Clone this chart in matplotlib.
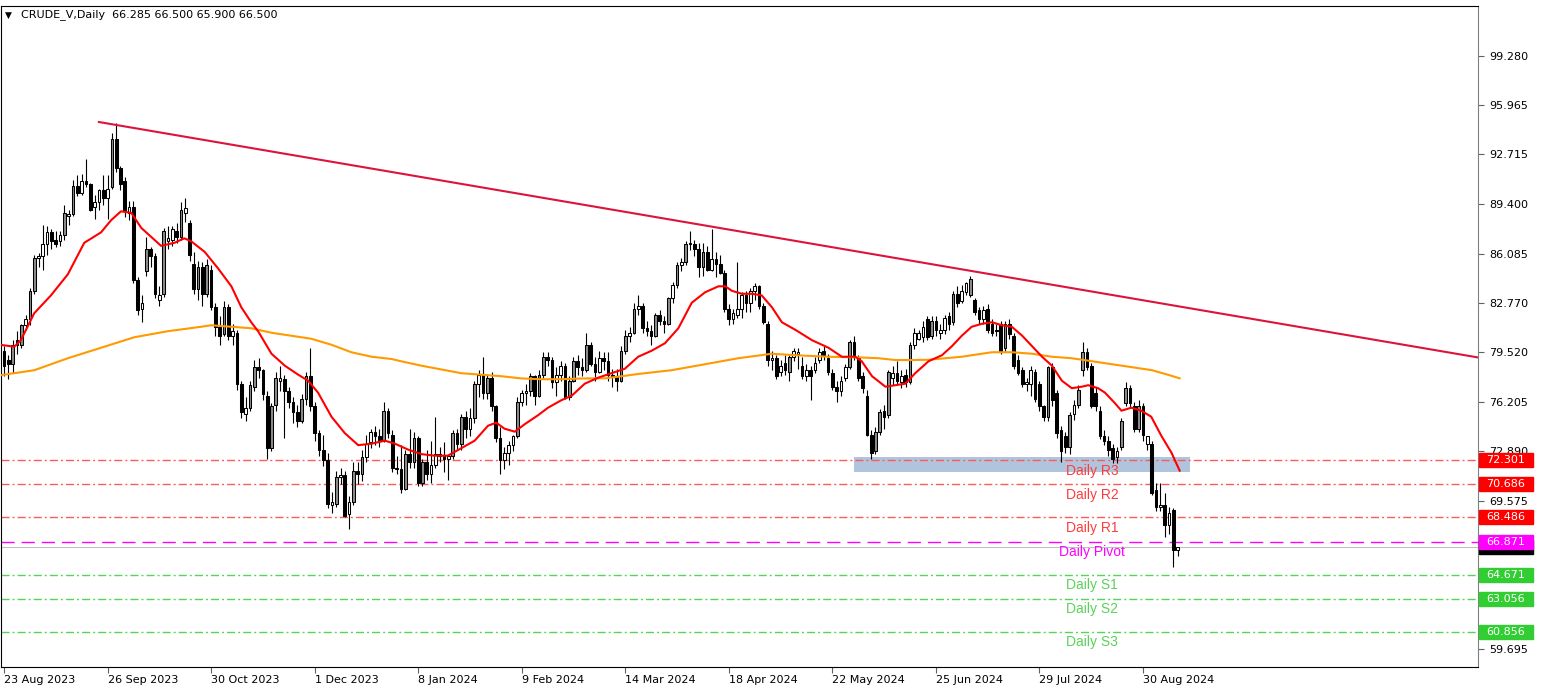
import numpy as np
import matplotlib.pyplot as plt
from matplotlib.patches import Rectangle
from matplotlib.transforms import blended_transform_factory

# Daily bars of CRUDE_V, 23 Aug 2023 .. 11 Sep 2024 (one value per bar)
opens = [
    79.6, 79.0, 78.7, 80.3, 80.0, 81.3, 81.7, 83.6, 85.8, 85.9,
    86.7, 87.5, 87.0, 86.9, 87.3, 88.6, 88.7, 90.6, 90.1, 90.9,
    90.7, 89.2, 89.5, 90.3, 89.8, 90.5, 93.7, 91.8, 90.9, 88.8,
    89.2, 84.3, 82.4, 84.9, 86.4, 85.9, 83.0, 83.4, 86.9, 87.0,
    87.6, 87.2, 88.8, 88.1, 85.4, 83.7, 85.2, 83.4, 85.0, 82.5,
    81.2, 80.7, 82.5, 80.6, 80.8, 77.4, 75.4, 75.8, 77.2, 78.5,
    78.3, 76.6, 73.1, 76.0, 77.6, 77.7, 76.9, 76.2, 75.5, 74.9,
    76.4, 77.9, 75.9, 74.1, 73.0, 72.3, 69.3, 69.4, 71.2, 71.3,
    68.7, 69.5, 71.6, 71.4, 72.5, 73.5, 74.2, 73.9, 73.6, 75.6,
    74.0, 71.8, 71.7, 70.4, 72.7, 72.2, 73.8, 70.8, 72.2, 71.4,
    72.0, 72.7, 72.6, 72.4, 72.6, 74.1, 73.4, 75.2, 74.4, 75.1,
    77.4, 78.0, 76.8, 77.8, 75.9, 73.8, 72.3, 72.8, 73.3, 73.9,
    76.2, 76.8, 76.9, 77.9, 76.6, 78.0, 79.2, 79.0, 77.5, 78.0,
    78.6, 76.5, 77.6, 78.9, 78.5, 78.3, 80.0, 78.7, 78.2, 79.1,
    78.9, 78.0, 77.9, 77.6, 79.6, 80.6, 80.8, 82.4, 82.6, 81.1,
    80.9, 80.6, 82.0, 81.6, 81.4, 83.1, 84.0, 85.3, 85.5, 86.8,
    86.7, 86.4, 85.2, 86.2, 85.0, 85.7, 85.4, 84.8, 82.4, 81.7,
    82.0, 82.4, 83.3, 82.8, 83.6, 83.9, 82.6, 81.4, 79.0, 79.1,
    78.2, 78.8, 78.2, 79.2, 79.4, 78.6, 77.9, 78.3, 78.3, 79.0,
    79.6, 79.1, 78.1, 77.2, 76.9, 77.8, 78.5, 80.2, 79.1, 77.9,
    76.6, 74.0, 72.9, 74.2, 75.6, 75.3, 77.8, 78.1, 77.5, 78.0,
    77.5, 80.0, 80.4, 80.5, 81.7, 80.6, 81.6, 80.8, 81.0, 81.9,
    81.5, 83.4, 82.9, 83.5, 83.3, 83.0, 82.3, 81.7, 82.4, 81.4,
    81.0, 81.4, 79.8, 81.4, 80.6, 79.0, 78.3, 77.4, 77.4, 78.2,
    77.4, 75.9, 75.2, 78.5, 76.8, 74.3, 73.9, 73.2, 75.4, 76.0,
    78.3, 79.5, 78.6, 76.8, 75.6, 73.9, 73.6, 73.1, 72.5, 73.2,
    76.1, 77.1, 75.9, 74.4, 75.9, 73.4, 73.4, 70.3, 69.2, 69.3,
    68.0, 69.0, 66.285,
]
highs = [
    79.9, 79.3, 80.3, 80.9, 81.4, 82.0, 83.8, 86.0, 86.1, 88.0,
    87.9, 87.7, 87.6, 87.6, 89.3, 89.0, 91.0, 91.3, 91.4, 92.4,
    90.8, 90.0, 90.4, 91.3, 91.3, 94.1, 94.8, 91.9, 91.2, 89.6,
    89.6, 84.5, 83.3, 87.2, 86.5, 86.1, 83.9, 87.8, 87.9, 87.9,
    88.1, 89.5, 89.8, 88.3, 86.2, 85.6, 85.5, 85.7, 85.3, 82.8,
    81.9, 82.9, 82.7, 81.4, 81.0, 77.6, 76.5, 77.6, 79.0, 79.1,
    78.4, 76.9, 76.1, 78.2, 78.6, 78.0, 77.2, 76.5, 76.0, 76.7,
    78.2, 79.8, 76.2, 74.3, 74.0, 72.8, 70.2, 71.6, 71.8, 71.6,
    69.9, 72.2, 72.2, 73.0, 74.0, 74.4, 74.6, 74.4, 76.2, 75.8,
    74.3, 72.6, 73.3, 73.0, 74.4, 74.2, 73.9, 72.4, 73.0, 73.6,
    75.2, 73.2, 73.5, 72.6, 74.3, 74.4, 75.4, 75.6, 75.8, 77.6,
    78.3, 79.2, 78.0, 78.2, 76.0, 74.5, 73.2, 73.6, 74.0, 76.5,
    77.0, 77.4, 78.1, 78.0, 78.3, 79.5, 79.5, 79.2, 78.5, 78.9,
    78.8, 77.9, 79.2, 79.3, 79.1, 80.8, 80.2, 79.2, 79.6, 79.5,
    79.5, 78.4, 78.4, 79.9, 81.0, 81.2, 82.8, 83.3, 82.8, 81.6,
    81.3, 82.1, 82.3, 81.9, 83.2, 84.2, 85.5, 85.8, 86.9, 87.6,
    87.0, 86.8, 86.8, 86.6, 87.7, 86.2, 86.0, 85.0, 82.7, 82.4,
    85.5, 83.5, 83.6, 83.8, 84.1, 84.0, 82.8, 81.6, 79.6, 79.3,
    79.0, 79.3, 79.3, 79.8, 79.8, 79.2, 78.7, 78.6, 79.2, 79.8,
    80.0, 79.4, 78.4, 77.6, 77.9, 78.7, 80.3, 80.6, 79.3, 78.2,
    77.0, 74.3, 74.5, 75.7, 76.0, 78.3, 78.6, 78.9, 78.3, 78.4,
    80.2, 81.1, 81.0, 81.6, 81.9, 81.9, 81.9, 81.4, 82.0, 82.2,
    83.6, 83.9, 84.0, 84.2, 84.6, 83.1, 82.5, 82.6, 82.7, 81.7,
    81.4, 81.6, 81.6, 81.7, 80.8, 79.3, 78.5, 77.8, 78.6, 78.4,
    77.6, 76.0, 78.6, 78.8, 77.0, 74.6, 74.2, 75.5, 76.3, 77.3,
    80.2, 79.8, 78.8, 77.2, 75.9, 74.3, 73.9, 73.4, 73.2, 75.1,
    77.5, 77.3, 76.2, 76.3, 76.1, 73.9, 73.6, 70.8, 70.8, 70.1,
    69.2, 69.1, 66.5,
]
lows = [
    77.9, 77.7, 78.1, 79.4, 79.8, 81.0, 81.3, 83.4, 85.2, 85.0,
    86.0, 86.4, 86.5, 86.6, 87.0, 88.0, 88.6, 89.9, 90.0, 90.5,
    88.9, 88.4, 89.0, 89.3, 88.4, 90.4, 91.5, 90.3, 88.5, 88.3,
    84.1, 82.0, 81.5, 84.6, 85.2, 83.1, 82.6, 83.2, 86.4, 86.6,
    86.8, 87.0, 88.2, 85.6, 83.4, 83.0, 82.6, 83.2, 82.3, 80.6,
    80.0, 80.6, 80.3, 80.0, 77.0, 75.1, 74.9, 75.6, 76.9, 77.8,
    76.3, 72.4, 72.9, 75.6, 76.9, 73.8, 75.8, 74.8, 74.5, 74.8,
    76.0, 75.6, 73.6, 72.6, 71.9, 69.1, 68.8, 69.2, 70.7, 68.5,
    67.7, 69.3, 70.7, 70.9, 72.2, 73.1, 73.3, 73.2, 73.5, 73.8,
    71.5, 71.4, 70.1, 70.3, 71.8, 71.8, 70.6, 70.6, 71.0, 70.8,
    71.8, 72.2, 71.5, 71.0, 72.4, 73.0, 73.0, 73.8, 73.9, 74.8,
    76.5, 76.4, 76.4, 75.6, 73.5, 71.4, 71.7, 72.0, 72.9, 73.8,
    75.9, 76.0, 76.6, 76.0, 76.5, 77.8, 78.6, 77.1, 76.6, 77.6,
    76.4, 76.3, 77.5, 78.0, 77.9, 78.2, 78.6, 77.6, 78.1, 78.3,
    77.6, 77.2, 76.9, 77.5, 79.4, 80.2, 80.7, 82.0, 80.8, 80.6,
    80.0, 80.5, 81.3, 80.8, 81.3, 82.8, 83.8, 84.9, 85.3, 86.3,
    85.9, 84.5, 84.6, 84.9, 84.9, 84.5, 84.7, 82.2, 81.3, 81.4,
    81.8, 81.8, 82.2, 82.2, 83.0, 82.4, 81.4, 78.6, 78.3, 77.7,
    77.9, 78.0, 77.6, 78.9, 78.4, 77.7, 77.6, 76.3, 78.1, 78.8,
    79.0, 78.0, 77.0, 76.2, 76.6, 77.6, 78.4, 79.0, 77.6, 76.8,
    73.9, 72.4, 72.7, 74.0, 74.4, 75.1, 77.3, 77.4, 77.1, 77.2,
    77.4, 79.7, 80.3, 80.2, 80.3, 80.4, 80.6, 80.4, 80.7, 81.0,
    81.3, 82.5, 82.8, 83.3, 83.2, 82.0, 81.4, 81.4, 80.8, 80.6,
    80.6, 79.4, 79.6, 80.4, 78.4, 78.0, 77.2, 76.9, 76.6, 76.2,
    75.6, 74.9, 74.9, 75.9, 73.8, 72.2, 72.8, 72.7, 75.0, 75.8,
    77.9, 78.3, 75.8, 75.6, 73.7, 73.3, 72.6, 72.1, 72.1, 73.0,
    75.9, 75.8, 74.2, 74.2, 73.6, 73.0, 70.0, 68.9, 68.9, 67.2,
    67.4, 65.2, 65.9,
]
closes = [
    78.6, 78.7, 80.0, 80.0, 81.3, 81.7, 83.6, 85.8, 85.9, 86.7,
    87.5, 86.9, 86.7, 87.3, 88.8, 88.7, 90.6, 90.1, 90.9, 90.7,
    89.0, 89.5, 90.3, 89.8, 90.4, 93.7, 91.8, 90.7, 88.9, 89.2,
    84.3, 82.3, 82.8, 86.4, 85.9, 83.4, 83.3, 87.6, 87.1, 87.7,
    87.2, 89.0, 89.1, 86.0, 83.7, 85.2, 83.4, 85.3, 82.5, 81.2,
    80.6, 82.5, 80.6, 80.9, 77.4, 75.5, 75.8, 77.3, 78.5, 78.3,
    76.7, 73.1, 75.9, 77.8, 77.8, 76.9, 76.2, 75.5, 74.9, 76.4,
    77.9, 75.9, 74.1, 73.0, 72.3, 69.4, 69.5, 71.2, 71.3, 68.6,
    69.5, 71.6, 71.4, 72.5, 73.4, 74.2, 73.9, 73.6, 75.6, 74.1,
    71.8, 71.7, 70.4, 72.7, 72.2, 73.8, 70.8, 72.2, 71.4, 72.0,
    72.7, 72.6, 72.4, 72.6, 74.1, 73.4, 75.2, 74.4, 75.1, 77.4,
    78.0, 76.8, 77.8, 75.9, 73.8, 72.3, 72.8, 73.3, 73.9, 76.2,
    76.8, 76.9, 77.9, 76.6, 78.0, 79.2, 79.0, 77.5, 78.0, 78.6,
    76.5, 77.6, 78.9, 78.5, 78.3, 80.0, 78.7, 78.2, 79.1, 78.9,
    78.0, 77.9, 77.6, 79.6, 80.6, 80.8, 82.4, 82.6, 81.1, 80.9,
    80.6, 82.0, 81.6, 81.4, 83.1, 84.0, 85.3, 85.5, 86.7, 86.7,
    86.4, 85.2, 86.2, 85.0, 85.7, 85.4, 84.8, 82.4, 81.7, 82.1,
    82.4, 83.3, 82.8, 83.6, 83.9, 82.6, 81.5, 79.0, 79.1, 77.9,
    78.6, 78.3, 79.2, 79.6, 79.5, 77.9, 78.3, 77.9, 78.8, 79.5,
    79.3, 78.2, 77.2, 76.9, 77.6, 78.5, 80.2, 79.3, 77.8, 77.1,
    74.0, 72.8, 74.2, 75.5, 75.2, 78.2, 78.1, 77.6, 77.9, 77.5,
    80.0, 80.8, 80.8, 81.2, 80.5, 81.6, 81.0, 81.0, 81.8, 81.4,
    83.4, 82.8, 83.6, 84.1, 84.4, 82.2, 81.7, 82.3, 81.0, 80.8,
    80.9, 79.6, 81.4, 80.7, 78.6, 78.1, 77.4, 77.5, 78.3, 76.4,
    75.9, 75.2, 78.5, 76.3, 74.1, 72.9, 73.2, 75.3, 76.0, 77.0,
    79.5, 78.5, 75.9, 75.9, 73.9, 73.6, 73.0, 72.4, 72.9, 74.9,
    77.1, 76.1, 74.4, 75.9, 74.0, 73.9, 70.1, 69.2, 69.3, 68.0,
    68.8, 66.3, 66.5,
]

# moving averages: (bar, price)
fast_ma_bar = [-0.5, 2.4, 3.9, 7, 10.9, 14.8, 18.6, 22.5, 24.8, 27.1, 29.5,
               31.8, 34.1, 36.4, 39.5, 41.8, 43.4, 46.5, 49.6, 52.7, 55, 57.3,
               58.9, 62, 65.1, 68.2, 70.5, 72.8, 75.9, 79, 82.1, 85.2, 88.3,
               90.6, 93.7, 96.8, 99.8, 102.9, 106, 109.1, 112.2, 114.1, 116,
               118.4, 120.7, 123.8, 126.1, 129.2, 131.6, 134.6, 137.7, 140.8,
               143.9, 147, 150.1, 153.2, 156.3, 159.4, 162.5, 165.6, 167.2,
               168.7, 171, 173.3, 175.6, 178, 180.3, 183.4, 187.3, 191.1,
               194.2, 197.3, 198.8, 201.2, 204.3, 206.6, 208.9, 211.2, 214.3,
               217.4, 219.7, 222, 224.3, 226.7, 229, 231.3, 233.6, 236, 238.3,
               240.6, 242.9, 245.2, 247.5, 249.8, 251.3, 253.6, 255.2, 257.5,
               259, 261.3, 263.6, 265.9, 268.3, 270.6, 272.5]
fast_ma = [79.98, 79.87, 80.3, 82.1, 83.3, 84.7, 86.8, 87.5, 88.3, 88.9, 88.8,
           87.8, 87.2, 86.6, 86.8, 87.1, 86.9, 86.2, 85.1, 83.9, 82.5, 81.5,
           80.9, 79.4, 78.6, 78.0, 77.6, 76.8, 75.2, 74.1, 73.3, 73.4, 73.6,
           73.4, 73.0, 72.7, 72.6, 72.6, 73.1, 73.6, 74.6, 74.8, 74.4,
           74.2, 74.7, 75.3, 75.8, 76.3, 76.6, 77.4, 77.8, 78.1,
           78.4, 79.2, 79.6, 80.1, 81.1, 82.8, 83.5, 83.9, 83.9,
           83.6, 83.4, 83.4, 83.3, 82.5, 81.5, 81.0, 80.3, 79.8,
           79.2, 79.2, 78.9, 77.9, 77.2, 77.3, 77.4, 78.1, 78.9,
           79.3, 79.9, 80.6, 81.2, 81.4, 81.5, 81.3, 81.2, 80.6, 79.9,
           79.2, 78.6, 77.6, 77.1, 77.2, 77.3, 77.1, 76.8, 76.1,
           75.6, 75.8, 75.6, 75.2, 73.9, 72.8, 71.6]
slow_ma_bar = [-0.5, 7.0, 14.8, 22.5, 30.2, 37.9, 45.7, 48, 52.7, 57.3, 62,
               66.6, 71.2, 75.9, 80.5, 85.2, 89.8, 92, 96.8, 101.4, 106,
               110.7, 115.3, 120, 124.6, 129.2, 133.9, 139.3, 143.2, 147,
               154.7, 162.5, 170.2, 178, 183.4, 191.1, 198.8, 202.7, 206.6,
               210.4, 214.3, 218.2, 222, 224.3, 229, 233.6, 238.3, 242.9,
               247.5, 252.2, 256.8, 261.5, 266.1, 270, 272.5]
slow_ma = [77.98, 78.3, 79.1, 79.8, 80.5, 80.9, 81.2, 81.3, 81.2, 81.1, 80.8,
           80.6, 80.4, 80.0, 79.5, 79.2, 79.05, 78.9, 78.6, 78.35, 78.1,
           78.0, 77.9, 77.75, 77.7, 77.7, 77.75, 77.76, 77.9, 78.05,
           78.3, 78.7, 79.1, 79.4, 79.3, 79.2, 79.15, 79.1, 78.98,
           78.98, 79.0, 79.1, 79.2, 79.3, 79.5, 79.5, 79.4, 79.2,
           79.1, 78.9, 78.7, 78.5, 78.3, 77.98, 77.76]

# date labels every 24 bars
tick_bars = [0, 24, 48, 72, 96, 120, 144, 168, 192, 216, 240, 264]
tick_labels = ['23 Aug 2023', '26 Sep 2023', '30 Oct 2023', '1 Dec 2023',
               '8 Jan 2024', '9 Feb 2024', '14 Mar 2024', '18 Apr 2024',
               '22 May 2024', '25 Jun 2024', '29 Jul 2024', '30 Aug 2024']
price_ticks = [99.280, 95.965, 92.715, 89.400, 86.085, 82.770, 79.520,
               76.205, 72.890, 69.575, 66.260, 62.975, 59.695]

# daily pivot levels
level_names = ['Daily R3', 'Daily R2', 'Daily R1', 'Daily Pivot',
               'Daily S1', 'Daily S2', 'Daily S3']
level_values = [72.301, 70.686, 68.486, 66.871, 64.671, 63.056, 60.856]

# support zone and falling trendline
zone_bars = [197, 275]
zone_prices = [71.49, 72.53]
trend_bars = [22, 220]
trend_prices = [94.86, 85.13]

o = np.array(opens)
h = np.array(highs)
l = np.array(lows)
c = np.array(closes)
x = np.arange(len(c))

XMAX = 341.65
fig = plt.figure(figsize=(15.46, 6.86), dpi=100)
ax = fig.add_axes([1 / 1546, 19 / 686, 1477 / 1546, 661 / 686])
ax.set_xlim(-0.695, XMAX)
ax.set_ylim(58.50, 102.60)

# zone
ax.add_patch(Rectangle((zone_bars[0], zone_prices[0]),
                       zone_bars[1] - zone_bars[0],
                       zone_prices[1] - zone_prices[0],
                       facecolor='#b0c4de', edgecolor='none', zorder=0.5))

# pivot lines
styles = {'R': ('#ff5a5a', '#ff3c3c', [5.8, 2.2, 1.4, 2.2]),
          'P': ('#ff00ff', '#ff00ff', [9.5, 5.0]),
          'S': ('#55d455', '#5ad25a', [5.8, 2.2, 1.4, 2.2])}
for name, val in zip(level_names, level_values):
    key = 'P' if 'Pivot' in name else name[-2]
    lc, tc, dash = styles[key]
    ax.axhline(val, color=lc, lw=1.0, dashes=dash, zorder=1)
    ax.annotate(name, xy=(252.2, val), xytext=(0, -2.5),
                textcoords='offset points', ha='center', va='top',
                color=tc, fontsize=10, family='Liberation Sans', zorder=8)

# current price line
ax.axhline(c[-1], color='#c0c0c0', lw=0.8, zorder=0.8)

# candles
up = c >= o
body_lo = np.minimum(o, c)
body_h = np.maximum(np.abs(c - o), 0.05)
fills = np.where(~up, 'black', np.where(c - o >= 1.0, '#8c8c8c', 'white'))
ax.vlines(x, l, h, color='black', lw=0.8, zorder=3)
ax.bar(x, body_h, bottom=body_lo, width=0.62, color=fills,
       edgecolor='black', linewidth=0.75, zorder=4)

# moving averages
ax.plot(slow_ma_bar, slow_ma, color='#ff9a00', lw=1.5, zorder=5)
ax.plot(fast_ma_bar, fast_ma, color='#ff0000', lw=1.5, zorder=5)

# trendline, extended as a ray to the right edge
slope = (trend_prices[1] - trend_prices[0]) / (trend_bars[1] - trend_bars[0])
ax.plot([trend_bars[0], XMAX],
        [trend_prices[0], trend_prices[0] + slope * (XMAX - trend_bars[0])],
        color='#dc143c', lw=1.5, zorder=5)

# axes styling
for sp in ax.spines.values():
    sp.set_color('black')
    sp.set_linewidth(0.8)
ax.spines['right'].set_color('#808080')
ax.yaxis.tick_right()
ax.set_yticks(price_ticks)
ax.set_yticklabels(['{:.3f}'.format(v) for v in price_ticks])
ax.tick_params(axis='y', direction='out', length=4, width=0.8,
               color='#606060', labelsize=8, pad=4)
ax.set_xticks(tick_bars)
ax.set_xticklabels(tick_labels)
ax.tick_params(axis='x', direction='out', length=4, width=0.8,
               color='#606060', labelsize=8, pad=2)
for lab in ax.get_xticklabels():
    lab.set_ha('left')

# price boxes on the right axis; later boxes cover earlier ones
trans = blended_transform_factory(ax.transAxes, ax.transData)
hh = 7 / 14.99
box_w = 54 / 1477
boxes = [(c[-1], 'black')]
boxes += [(v, '#ff0000') for v in level_values[:3]]
boxes += [(level_values[3], '#ff00ff')]
boxes += [(v, '#32cd32') for v in level_values[4:]]
for k, (val, col) in enumerate(boxes):
    z = 9 + 2 * k
    ax.add_patch(Rectangle((1.0006, val - hh), box_w, 2 * hh, transform=trans,
                           facecolor=col, edgecolor=col, clip_on=False,
                           zorder=z))
    if col == 'black':
        # current price label sits under the pivot label, only its lower
        # edge shows
        continue
    ax.text(1.0006 + box_w / 2, val, '{:.3f}'.format(val), transform=trans,
            ha='center', va='center', color='white', fontsize=8,
            zorder=z + 1, clip_on=False)

# header
fig.text(5 / 1546, 1 - 15 / 686, '\u25bc', fontsize=6.5, va='center')
fig.text(21 / 1546, 1 - 15 / 686,
         'CRUDE_V,Daily  66.285 66.500 65.900 66.500', fontsize=8,
         va='center')

fig.savefig('out.png', dpi=100)
